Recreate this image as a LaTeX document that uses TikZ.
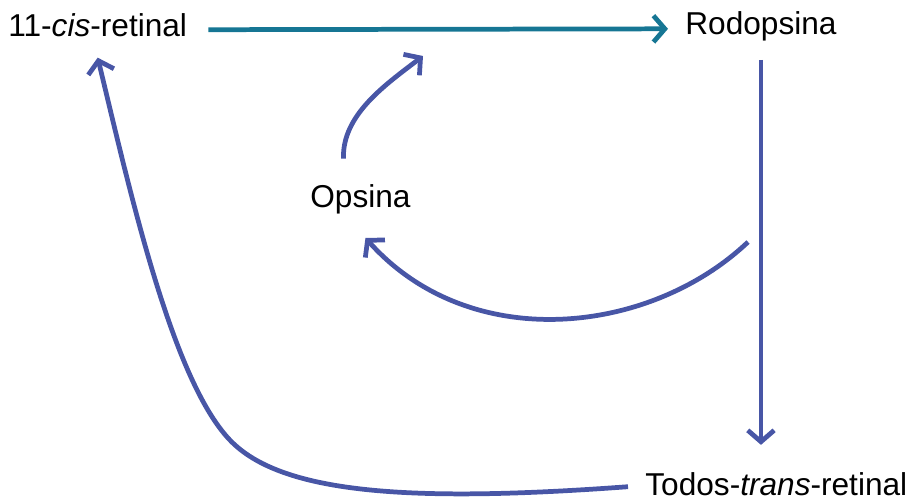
\documentclass[tikz,border=0pt]{standalone}
\usepackage{fontspec}
\setsansfont{Liberation Sans}
\usepackage{tikz}
\usetikzlibrary{arrows.meta, calc}

\definecolor{cycleteal}{RGB}{22,118,148}
\definecolor{cycleblue}{RGB}{72,86,166}

\begin{document}
\begin{tikzpicture}[x=0.02cm, y=-0.02cm,
  label/.style={font=\sffamily\fontsize{18}{21}\selectfont, inner sep=0pt},
  flow/.style={line width=2.7pt, -{Straight Barb[length=6.5pt, width=15pt]}}]
\useasboundingbox (0,0) rectangle (912,501);
% pigments
\node[label, anchor=base west] (cis) at (8,36) {11-\textit{cis}-retinal};
\node[label, anchor=base west] (rod) at (685,34) {Rodopsina};
\node[label, anchor=base west] (ops) at (310,207) {Opsina};
\node[label, anchor=base west] (trans) at (645,495) {Todos-\textit{trans}-retinal};
% free ends of the curved arrows
\coordinate (opsTip) at (423,56);
\coordinate (rodOut) at (748,242);
% binding to form rhodopsin
\draw[flow, cycleteal] ($(cis.east)+(21,5)$) -- ($(rod.west)+(-17,3)$);
% bleaching
\draw[flow, cycleblue, shorten <=10.8pt, shorten >=15.3pt] (rod.south) -- (rod.south |- trans.north);
% opsin released and recycled
\draw[flow, cycleblue] (rodOut) .. controls (650,335) and (470,355) .. ($(ops.south)+(5,24)$);
\draw[flow, cycleblue] ($(ops.north)+(-17,-25)$) .. controls (342,115) and (385,85) .. (opsTip);
% retinal back to the cis form
\draw[flow, cycleblue] ($(trans.west)+(-17,3)$) .. controls (420,502) and (290,495) .. (235,445)
  .. controls (175,391) and (132,200) .. ($(cis.south)+(0,21)$);
\end{tikzpicture}
\end{document}
